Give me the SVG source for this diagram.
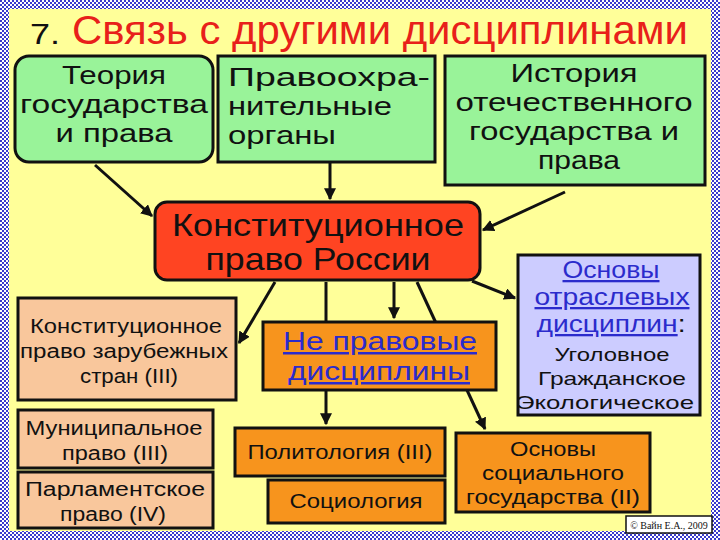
<svg xmlns="http://www.w3.org/2000/svg" width="720" height="540" viewBox="0 0 720 540">
<defs>
<pattern id="chk" width="4" height="4" patternUnits="userSpaceOnUse"><rect width="4" height="4" fill="#ffffff"/><rect width="2" height="2" fill="#3a3acc"/><rect x="2" y="2" width="2" height="2" fill="#3a3acc"/></pattern>
<marker id="ar" viewBox="0 0 10 10" refX="9" refY="5" markerWidth="4" markerHeight="4" orient="auto"><path d="M0,0L10,5L0,10z" fill="#111"/></marker>
</defs>
<style>
text{font-family:"Liberation Sans",Arial,sans-serif;fill:#111;text-anchor:middle}
.b{stroke:#111;stroke-width:3}
.g{fill:#99f399}.o{fill:#f7941d}.p{fill:#f9c79c}.l{fill:#ccccff}
.c path{stroke:#111;stroke-width:3;fill:none}
.a{marker-end:url(#ar)}
.u{fill:#2b2bcc;text-decoration:underline}
</style>
<rect width="720" height="540" fill="url(#chk)"/>
<rect x="9" y="9" width="702" height="522" fill="#ffff99"/>
<text x="30" y="44" style="text-anchor:start;font-size:30px" textLength="30" lengthAdjust="spacingAndGlyphs">7.</text>
<text x="72" y="44" style="text-anchor:start;font-size:40px;fill:#e8201a" textLength="616" lengthAdjust="spacingAndGlyphs">Связь с другими дисциплинами</text>
<g class="c">
<path class="a" d="M95,165L152,216"/>
<path class="a" d="M330,162L330,199"/>
<path class="a" d="M565,192L483,230"/>
<path class="a" d="M275,282L239,343"/>
<path class="a" d="M326,282L326,424"/>
<path class="a" d="M394,282L394,318"/>
<path class="a" d="M417,282L485,429"/>
<path class="a" d="M472,281L515,298"/>
</g>
<g id="n1"><rect class="b g" x="15" y="56" width="198" height="106" rx="14"/><text x="114" y="84" font-size="26" textLength="104" lengthAdjust="spacingAndGlyphs">Теория</text><text x="114" y="113" font-size="26" textLength="188" lengthAdjust="spacingAndGlyphs">государства</text><text x="114" y="142" font-size="26" textLength="117" lengthAdjust="spacingAndGlyphs">и права</text></g>
<g id="n2"><rect class="b g" x="218" y="56" width="217" height="106"/><text x="228" y="86" font-size="26" style="text-anchor:start" textLength="202" lengthAdjust="spacingAndGlyphs">Правоохра-</text><text x="228" y="115" font-size="26" style="text-anchor:start" textLength="164" lengthAdjust="spacingAndGlyphs">нительные</text><text x="228" y="144" font-size="26" style="text-anchor:start" textLength="108" lengthAdjust="spacingAndGlyphs">органы</text></g>
<g id="n3"><rect class="b g" x="445" y="56" width="260" height="129"/><text x="574" y="82" font-size="26" textLength="127" lengthAdjust="spacingAndGlyphs">История</text><text x="574" y="111" font-size="26" textLength="237" lengthAdjust="spacingAndGlyphs">отечественного</text><text x="574" y="140" font-size="26" textLength="210" lengthAdjust="spacingAndGlyphs">государства и</text><text x="579" y="169" font-size="26" textLength="82" lengthAdjust="spacingAndGlyphs">права</text></g>
<g id="n4"><rect class="b" fill="#ff4422" x="155" y="202" width="325" height="78" rx="12"/><text x="318" y="236" font-size="32" textLength="292" lengthAdjust="spacingAndGlyphs">Конституционное</text><text x="318" y="270" font-size="32" textLength="225" lengthAdjust="spacingAndGlyphs">право России</text></g>
<g id="n5"><rect class="b p" x="18" y="298" width="218" height="102"/><text x="126" y="333" font-size="20" textLength="192" lengthAdjust="spacingAndGlyphs">Конституционное</text><text x="124" y="358" font-size="20" textLength="208" lengthAdjust="spacingAndGlyphs">право зарубежных</text><text x="129" y="383" font-size="20" textLength="98" lengthAdjust="spacingAndGlyphs">стран (III)</text></g>
<g id="n6"><rect class="b p" x="18" y="410" width="195" height="58"/><text x="114" y="435" font-size="20" textLength="177" lengthAdjust="spacingAndGlyphs">Муниципальное</text><text x="115" y="460" font-size="20" textLength="106" lengthAdjust="spacingAndGlyphs">право (III)</text></g>
<g id="n7"><rect class="b p" x="18" y="472" width="195" height="56"/><text x="115" y="496" font-size="20" textLength="180" lengthAdjust="spacingAndGlyphs">Парламентское</text><text x="113" y="521" font-size="20" textLength="106" lengthAdjust="spacingAndGlyphs">право (IV)</text></g>
<g id="n8"><rect class="b o" x="263" y="322" width="233" height="68"/><text class="u" x="380" y="350" font-size="25" textLength="194" lengthAdjust="spacingAndGlyphs">Не правовые</text><text class="u" x="379" y="380" font-size="25" textLength="182" lengthAdjust="spacingAndGlyphs">дисциплины</text></g>
<g id="n9"><rect class="b l" x="518" y="255" width="182" height="160"/><text class="u" x="611" y="278" font-size="23" textLength="97" lengthAdjust="spacingAndGlyphs">Основы</text><text class="u" x="612" y="305" font-size="23" textLength="155" lengthAdjust="spacingAndGlyphs">отраслевых</text><text x="611" y="332" font-size="23" textLength="149" lengthAdjust="spacingAndGlyphs"><tspan class="u">дисциплин</tspan>:</text><text x="612" y="361" font-size="19" textLength="115" lengthAdjust="spacingAndGlyphs">Уголовное</text><text x="612" y="385" font-size="19" textLength="148" lengthAdjust="spacingAndGlyphs">Гражданское</text><text x="605" y="409" font-size="19" textLength="178" lengthAdjust="spacingAndGlyphs">Экологическое</text></g>
<g id="n10"><rect class="b o" x="235" y="428" width="210" height="48"/><text x="340" y="459" font-size="20" textLength="185" lengthAdjust="spacingAndGlyphs">Политология (III)</text></g>
<g id="n11"><rect class="b o" x="268" y="480" width="177" height="43"/><text x="356" y="508" font-size="20" textLength="133" lengthAdjust="spacingAndGlyphs">Социология</text></g>
<g id="n12"><rect class="b o" x="456" y="433" width="194" height="79"/><text x="553" y="456" font-size="20" textLength="86" lengthAdjust="spacingAndGlyphs">Основы</text><text x="553" y="480" font-size="20" textLength="142" lengthAdjust="spacingAndGlyphs">социального</text><text x="553" y="504" font-size="20" textLength="174" lengthAdjust="spacingAndGlyphs">государства (II)</text></g>
<g id="cp"><rect x="626" y="516" width="86" height="17" fill="#fff" stroke="#111" stroke-width="1.5"/><text x="669" y="529" font-size="10" style="font-family:'Liberation Serif',serif">© Вайн Е.А., 2009</text></g>
</svg>
